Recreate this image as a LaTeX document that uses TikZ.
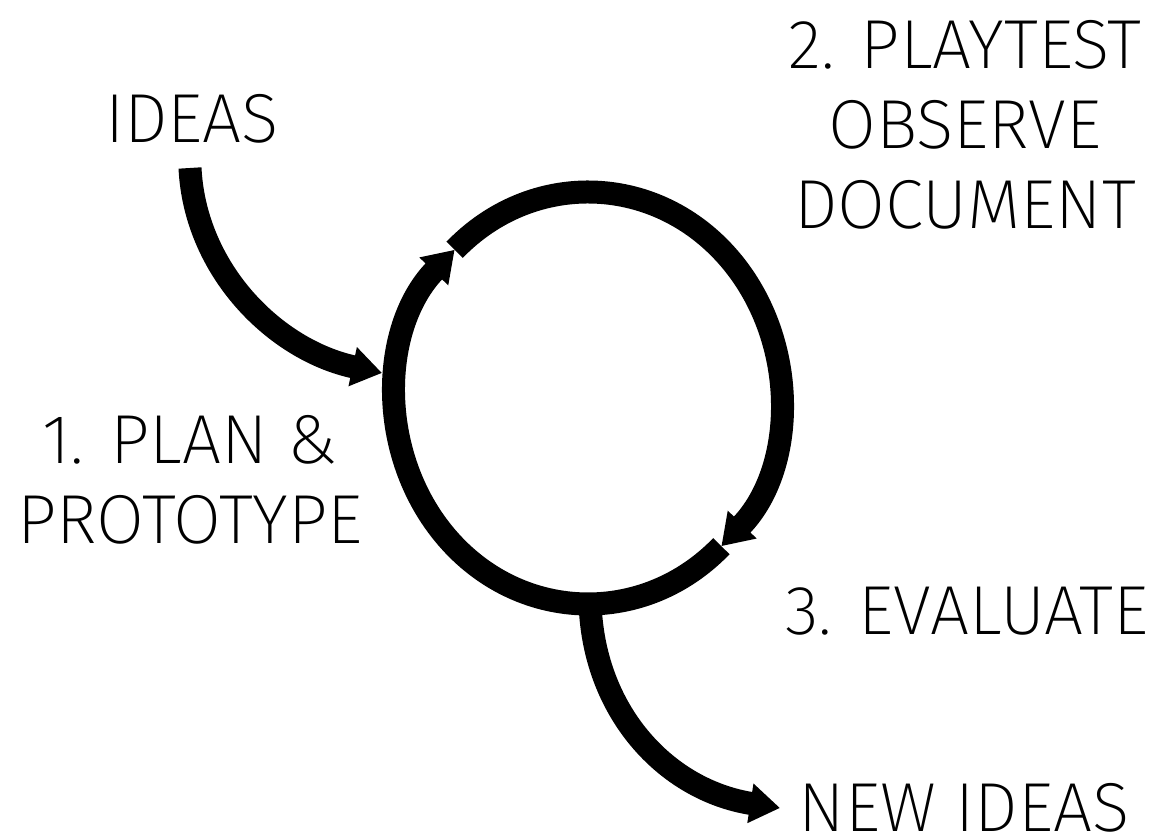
\documentclass[tikz,border=0pt]{standalone}
\usepackage{fontspec}
\IfFontExistsTF{Fira Sans ExtraLight}{\setmainfont{Fira Sans ExtraLight}}{%
  \IfFontExistsTF{Fira Sans Light}{\setmainfont{Fira Sans Light}}{\setmainfont{Fira Sans}}}
\usetikzlibrary{arrows.meta}

\begin{document}
\begin{tikzpicture}
[
    x=0.75pt, y=0.75pt,
    thick line/.style={line width=17.25pt},
    head/.style={-{Triangle[length=22.5pt, width=28.5pt]}},
    label/.style={inner sep=0pt, align=center, font=\fontsize{52}{60}\selectfont},
]
\useasboundingbox (0,0) rectangle (1160,837);

\node [label, anchor=base] (ideas) at (192,694) {IDEAS};
\node [label, anchor=north] (playtest) at (965,817) {2. PLAYTEST\\OBSERVE\\DOCUMENT};
\node [label, anchor=north] (plan) at (190,422) {1. PLAN \&\\PROTOTYPE};
\node [label, anchor=base] (evaluate) at (967,202) {3. EVALUATE};
\node [label, anchor=base] (newideas) at (964,5) {NEW IDEAS};

\coordinate (loop) at (588,439);
\coordinate (ideas end) at (190,669);
\coordinate (loop bottom) at (590,237);

\draw [thick line, head] (loop) ++(134:192 and 206)
    arc [start angle=134, end angle=-46, x radius=192, y radius=206];
\draw [thick line, head] (loop) ++(-46:192 and 206)
    arc [start angle=-46, end angle=-226, x radius=192, y radius=206];

\draw [thick line, head] (ideas end)
    .. controls (195,567) and (275,487) .. (382,464);
\draw [thick line, head] (loop bottom)
    .. controls (592,127) and (665,47) .. (780,29);
\end{tikzpicture}
\end{document}
